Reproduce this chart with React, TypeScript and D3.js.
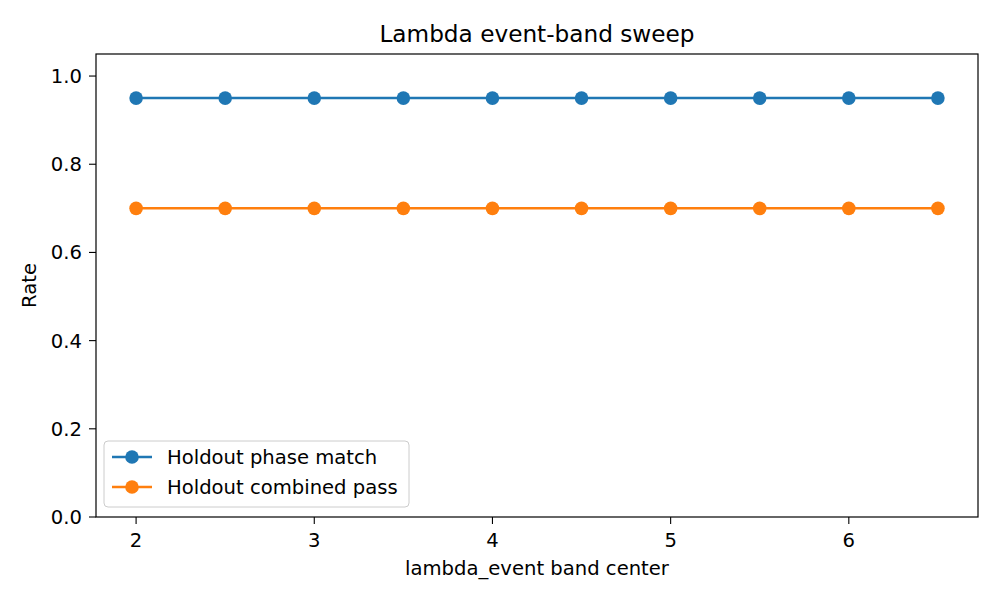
import React from "react";
import * as d3 from "d3";

const xValues = [2, 2.5, 3, 3.5, 4, 4.5, 5, 5.5, 6, 6.5];
const phaseMatch = [0.95, 0.95, 0.95, 0.95, 0.95, 0.95, 0.95, 0.95, 0.95, 0.95];
const combinedPass = [0.7, 0.7, 0.7, 0.7, 0.7, 0.7, 0.7, 0.7, 0.7, 0.7];
const xTicks = [2, 3, 4, 5, 6];
const yTicks = [0, 0.2, 0.4, 0.6, 0.8, 1.0];
const seriesNames = ["Holdout phase match", "Holdout combined pass"];
const seriesColors = ["#1f77b4", "#ff7f0e"];

const W = 1000, H = 600;
const L = 96, R = 978, T = 54, B = 517;
const FONT = "'DejaVu Sans', sans-serif";
const FS = 19.6;

export default function App() {
  const x = d3.scaleLinear().domain([1.775, 6.725]).range([L, R]);
  const y = d3.scaleLinear().domain([0, 1.05]).range([B, T]);
  const line = d3.line<number>().x((_, i) => x(xValues[i])).y((d) => y(d));
  const series = [phaseMatch, combinedPass];

  return (
    <svg width={W} height={H} style={{ position: "absolute", left: 0, top: 0, background: "#fff" }} fontFamily={FONT}>
      <rect x={0} y={0} width={W} height={H} fill="#fff" />
      <text x={(L + R) / 2} y={42} textAnchor="middle" fontSize={23.2} fill="#000">Lambda event-band sweep</text>
      {series.map((s, si) => (
        <g key={si}>
          <path d={line(s) || ""} fill="none" stroke={seriesColors[si]} strokeWidth={2.5} />
          {s.map((v, i) => (
            <circle key={i} cx={x(xValues[i])} cy={y(v)} r={6.8} fill={seriesColors[si]} />
          ))}
        </g>
      ))}
      <rect x={L} y={T} width={R - L} height={B - T} fill="none" stroke="#000" strokeWidth={1.2} />
      {xTicks.map((t) => (
        <g key={t}>
          <line x1={x(t)} x2={x(t)} y1={B} y2={B + 7} stroke="#000" strokeWidth={1.1} />
          <text x={x(t)} y={546.5} textAnchor="middle" fontSize={FS} fill="#000">{t}</text>
        </g>
      ))}
      {yTicks.map((t) => (
        <g key={t}>
          <line x1={L - 7} x2={L} y1={y(t)} y2={y(t)} stroke="#000" strokeWidth={1.1} />
          <text x={L - 14} y={y(t)} dy="0.36em" textAnchor="end" fontSize={FS} fill="#000">{t.toFixed(1)}</text>
        </g>
      ))}
      <text x={(L + R) / 2} y={575} textAnchor="middle" fontSize={FS} fill="#000">lambda_event band center</text>
      <text transform={`translate(36, ${(T + B) / 2}) rotate(-90)`} textAnchor="middle" fontSize={FS} fill="#000">Rate</text>
      <g>
        <rect x={104} y={441} width={305} height={66} rx={4} fill="#fff" fillOpacity={0.8} stroke="#cccccc" strokeWidth={1} />
        {seriesNames.map((n, i) => {
          const cy = 457 + i * 30;
          return (
            <g key={n}>
              <line x1={112} x2={152} y1={cy} y2={cy} stroke={seriesColors[i]} strokeWidth={2.5} />
              <circle cx={132} cy={cy} r={6.8} fill={seriesColors[i]} />
              <text x={167} y={cy} dy="0.36em" fontSize={FS} fill="#000">{n}</text>
            </g>
          );
        })}
      </g>
    </svg>
  );
}
